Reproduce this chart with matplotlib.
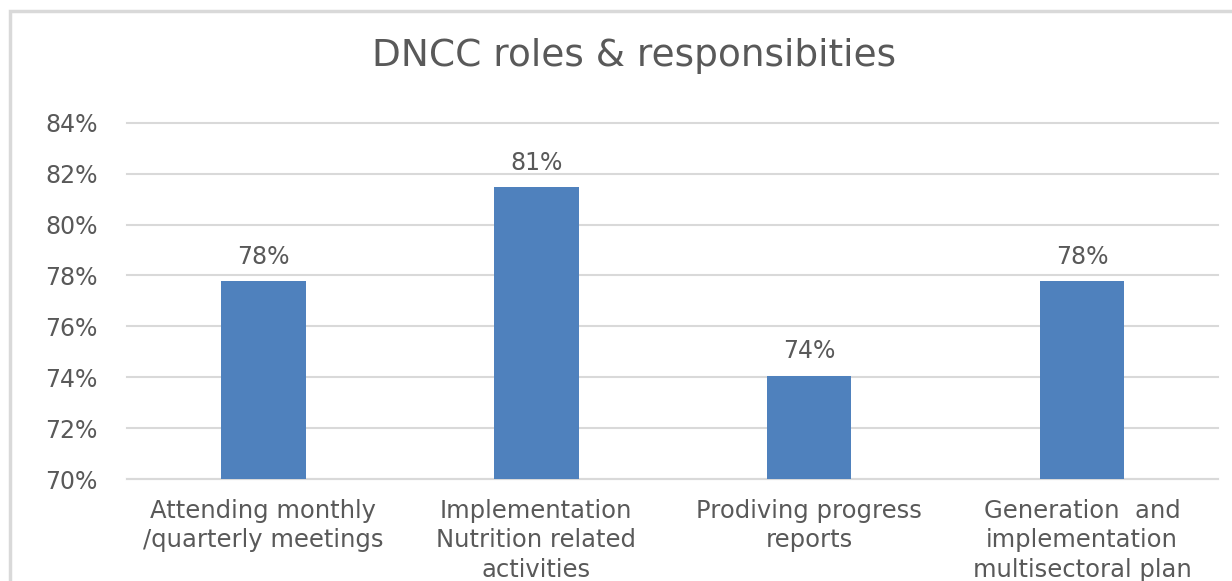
import matplotlib.pyplot as plt
import numpy as np
from matplotlib.patches import Rectangle
from matplotlib.ticker import FuncFormatter

categories = [
    'Attending monthly\n/quarterly meetings',
    'Implementation\nNutrition related\nactivities',
    'Prodiving progress\nreports',
    'Generation  and\nimplementation\nmultisectoral plan',
]
shares = [0.7778, 0.8148, 0.7407, 0.7778]
y_ticks = [0.70, 0.72, 0.74, 0.76, 0.78, 0.80, 0.82, 0.84]

bar_color = '#4F81BD'
text_color = '#595959'
grid_color = '#D9D9D9'

plt.rcParams['font.family'] = ['DejaVu Sans']

fig = plt.figure(figsize=(12.32, 5.81), dpi=100)
ax = fig.add_axes([0.103, 0.175, 0.886, 0.614])

# chart area border, clipped on the right and bottom
fig.patches.append(Rectangle((0.0078, -0.05), 1.2, 1.031, transform=fig.transFigure,
                             fill=False, edgecolor=grid_color, linewidth=2.5))

x = np.arange(len(categories))
ax.bar(x, shares, width=0.31, color=bar_color, zorder=3)

for xi, v in zip(x, shares):
    ax.text(xi, v + 0.0048, f'{v:.0%}', ha='center', va='bottom',
            fontsize=17, color=text_color)

ax.set_xlim(-0.5, len(categories) - 0.5)
ax.set_ylim(0.70, 0.84)
ax.set_yticks(y_ticks)
ax.yaxis.set_major_formatter(FuncFormatter(lambda v, _: f'{v:.0%}'))
ax.set_xticks(x)
ax.set_xticklabels(categories, fontsize=17.5, color=text_color, linespacing=1.3)
ax.tick_params(axis='y', labelsize=17, labelcolor=text_color, length=0, pad=21)
ax.tick_params(axis='x', length=0, pad=14)

ax.grid(axis='y', color=grid_color, linewidth=1.5, zorder=0)
for gl in ax.get_ygridlines():
    gl.set_clip_on(False)
for side in ['top', 'right', 'left']:
    ax.spines[side].set_visible(False)
ax.spines['bottom'].set_color(grid_color)
ax.spines['bottom'].set_linewidth(1.5)

fig.text(0.515, 0.903, 'DNCC roles & responsibities', ha='center', va='center',
         fontsize=27, color=text_color)

fig.savefig('out.png', dpi=100)
